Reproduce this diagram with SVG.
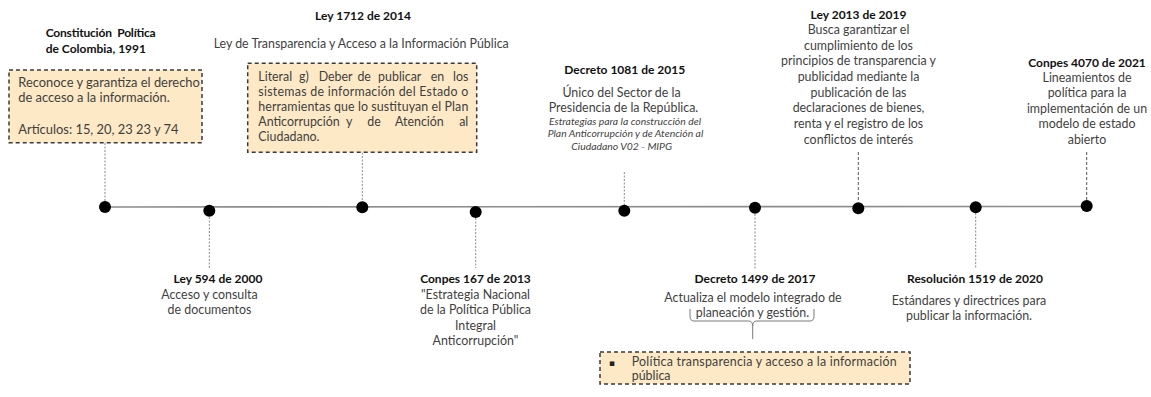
<svg xmlns="http://www.w3.org/2000/svg" width="1151" height="397" viewBox="0 0 1151 397">
<style>
text{font-family:Lato,"Liberation Sans",sans-serif}
.t{font-weight:700;font-size:12px;fill:#111}
.b{font-size:12.4px;fill:#3f3f3f}
.bx{font-size:12.9px;fill:#3f3f3f}
.i{font-size:10.4px;font-style:italic;fill:#3f3f3f}
.m{text-anchor:middle}
.box{fill:#fde9c6;stroke:#3a3a3a;stroke-width:1.5;stroke-dasharray:4 3}
.dot{fill:#000}
.cg{stroke:#8a8a8a;stroke-width:1;stroke-dasharray:2 1.5;fill:none}
.cd{stroke:#555;stroke-width:1;stroke-dasharray:3 2;fill:none}
</style>
<rect width="1151" height="397" fill="#fff"/>
<g id="connectors">
<line x1="105" y1="207" x2="1087" y2="206.5" stroke="#8c8c8c" stroke-width="1.6"/>
<line class="cg" x1="105" y1="143" x2="105" y2="201"/>
<line class="cg" x1="209.3" y1="217" x2="209.3" y2="268"/>
<line class="cg" x1="362.3" y1="152.5" x2="362.3" y2="201"/>
<line class="cg" x1="475.7" y1="218" x2="475.7" y2="268"/>
<line class="cg" x1="624.3" y1="172" x2="624.3" y2="205"/>
<line class="cg" x1="755" y1="214" x2="755" y2="269"/>
<line class="cd" x1="858.3" y1="152" x2="858.3" y2="202"/>
<line class="cg" x1="975.7" y1="213" x2="975.7" y2="269"/>
<line class="cd" x1="1086.7" y1="152" x2="1086.7" y2="200"/>
<path d="M690,309 V316 Q690,321 694,321 H748.7 Q752.7,321 752.7,326 V339 M752.7,326 Q752.7,321 756.7,321 H810 Q814,321 814,316 V309" fill="none" stroke="#7a7a7a" stroke-width="1"/>
</g>
<g id="n1">
<circle class="dot" cx="105" cy="207" r="6"/>
<text class="t" x="45.7" y="37.3" style="white-space:pre" textLength="110" lengthAdjust="spacing">Constitución  Política</text>
<text class="t" x="45.7" y="53.3">de Colombia, 1991</text>
<rect class="box" x="9" y="70" width="193" height="72.7"/>
<text class="bx" x="18.3" y="87.3">Reconoce y garantiza el derecho</text>
<text class="bx" x="18.3" y="101.7">de acceso a la información.</text>
<text class="bx" x="18.3" y="134">Artículos: 15, 20, 23 23 y 74</text>
</g>
<g id="n2">
<circle class="dot" cx="209.3" cy="210.7" r="6"/>
<text class="t m" x="218" y="283">Ley 594 de 2000</text>
<text class="b m" x="209.5" y="298.5">Acceso y consulta</text>
<text class="b m" x="209.5" y="314">de documentos</text>
</g>
<g id="n3">
<circle class="dot" cx="362.3" cy="207.3" r="6"/>
<text class="t m" x="363" y="20">Ley 1712 de 2014</text>
<text class="b m" x="361.2" y="48">Ley de Transparencia y Acceso a la Información Pública</text>
<rect class="box" x="247.7" y="63.3" width="229" height="89"/>
<text class="b" y="81"><tspan x="258.3">Literal</tspan><tspan x="299">g)</tspan><tspan x="318.7">Deber</tspan><tspan x="357.4">de</tspan><tspan x="378.1">publicar</tspan><tspan x="430.8">en</tspan><tspan x="468.3" text-anchor="end">los</tspan></text>
<text class="b" x="258.3" y="96" textLength="210" lengthAdjust="spacing">sistemas de información del Estado o</text>
<text class="b" x="258.3" y="111" textLength="210" lengthAdjust="spacing">herramientas que lo sustituyan el Plan</text>
<text class="b" y="126"><tspan x="258.3">Anticorrupción</tspan><tspan x="346">y</tspan><tspan x="367.3">de</tspan><tspan x="395">Atención</tspan><tspan x="468.3" text-anchor="end">al</tspan></text>
<text class="b" x="258.3" y="140.5">Ciudadano.</text>
</g>
<g id="n4">
<circle class="dot" cx="475.7" cy="212" r="6"/>
<text class="t m" x="475.5" y="283">Conpes 167 de 2013</text>
<text class="b m" x="475.5" y="298.5">"Estrategia Nacional</text>
<text class="b m" x="475.5" y="314">de la Política Pública</text>
<text class="b m" x="475.5" y="329.5">Integral</text>
<text class="b m" x="475.5" y="345">Anticorrupción"</text>
</g>
<g id="n5">
<circle class="dot" cx="624.3" cy="210.7" r="6"/>
<text class="t m" x="624.7" y="74">Decreto 1081 de 2015</text>
<text class="b m" x="621.5" y="96.7">Único del Sector de la</text>
<text class="b m" x="623.5" y="111.7">Presidencia de la República.</text>
<text class="i m" x="625" y="124.5">Estrategias para la construcción del</text>
<text class="i m" x="625.5" y="136.5">Plan Anticorrupción y de Atención al</text>
<text class="i m" x="621.7" y="149.5">Ciudadano V02 - MIPG</text>
</g>
<g id="n6">
<circle class="dot" cx="755" cy="207.7" r="6"/>
<text class="t m" x="755" y="283">Decreto 1499 de 2017</text>
<text class="b m" x="753" y="302">Actualiza el modelo integrado de</text>
<text class="b m" x="752.5" y="317">planeación y gestión.</text>
<rect class="box" x="600" y="352" width="310" height="32"/>
<text x="609" y="365.5" style="font-family:'DejaVu Sans',sans-serif;font-size:9px;fill:#222">▪</text>
<text class="b" x="631.7" y="365.5" textLength="265" lengthAdjust="spacing">Política transparencia y acceso a la información</text>
<text class="b" x="631.7" y="380">pública</text>
</g>
<g id="n7">
<circle class="dot" cx="858.3" cy="208.3" r="6"/>
<text class="t m" x="858.5" y="19">Ley 2013 de 2019</text>
<text class="b m" x="858.5" y="34">Busca garantizar el</text>
<text class="b m" x="858.5" y="49.5">cumplimiento de los</text>
<text class="b m" x="858.5" y="65">principios de transparencia y</text>
<text class="b m" x="858.5" y="81">publicidad mediante la</text>
<text class="b m" x="858.5" y="96.5">publicación de las</text>
<text class="b m" x="858.5" y="112">declaraciones de bienes,</text>
<text class="b m" x="858.5" y="128">renta y el registro de los</text>
<text class="b m" x="858.5" y="143.5">conflictos de interés</text>
</g>
<g id="n8">
<circle class="dot" cx="975.7" cy="207.3" r="6"/>
<text class="t m" x="975" y="283">Resolución 1519 de 2020</text>
<text class="b m" x="969" y="304.5">Estándares y directrices para</text>
<text class="b m" x="969" y="320">publicar la información.</text>
</g>
<g id="n9">
<circle class="dot" cx="1086.7" cy="206" r="6"/>
<text class="t m" x="1087" y="66.5">Conpes 4070 de 2021</text>
<text class="b m" x="1087" y="81.5">Lineamientos de</text>
<text class="b m" x="1087" y="97">política para la</text>
<text class="b m" x="1087" y="112.5">implementación de un</text>
<text class="b m" x="1087" y="128">modelo de estado</text>
<text class="b m" x="1087" y="143.5">abierto</text>
</g>
</svg>
